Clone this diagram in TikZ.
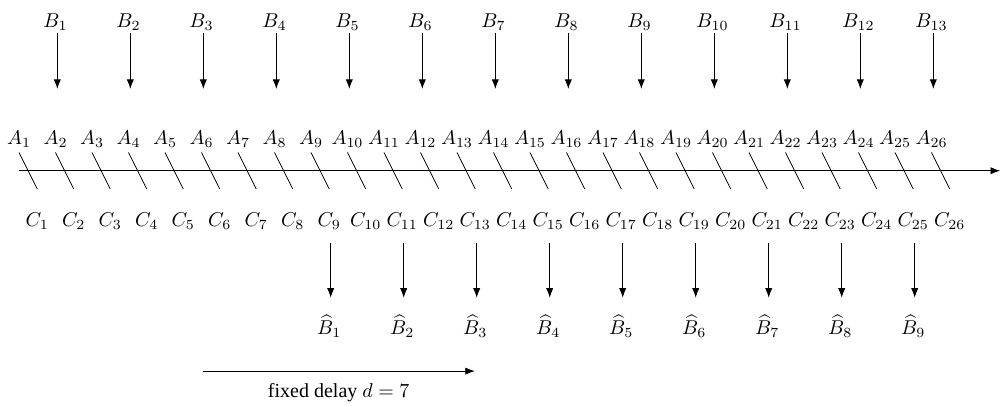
\documentclass[tikz,border=0pt]{standalone}
\usepackage{amsmath}
\usepackage[no-math]{fontspec}
\newfontfamily\delayfont{Liberation Serif}
\usepackage{tikz}
\usetikzlibrary{arrows.meta}

\tikzset{
  lbl/.style={inner sep=1.3pt, anchor=base},
  arr/.style={-{Latex}},
}

\begin{document}
\begin{tikzpicture}[x=18.25pt, y=18.25pt]
  \useasboundingbox (-0.5205,-6.419) rectangle (26.904,4.677);

  % time axis
  \coordinate (start) at (0,0);
  \coordinate (end) at (26.88,0);
  \draw[arr] (start) -- (end);

  % ticks A_i / C_i
  \foreach \i [evaluate=\i as \x using \i-1] in {1,...,26}{
    \draw (\x,0.5) -- (\x+0.5,-0.5);
    \node[lbl] (a\i) at (\x,0.73) {$A_{\i}$};
    \node[lbl] (c\i) at (\x+0.5,-1.53) {$C_{\i}$};
  }

  % inputs B_k
  \foreach \k in {1,...,13}{
    \node[lbl] (b\k) at (2*\k-1,3.93) {$B_{\k}$};
    \coordinate (bs\k) at (2*\k-0.95,3.77);
    \coordinate (bt\k) at (2*\k-0.95,2.24);
    \draw[arr] (bs\k) -- (bt\k);
  }

  % outputs \widehat{B}_k
  \foreach \k in {1,...,9}{
    \coordinate (hs\k) at (2*\k+6.54,-1.98);
    \coordinate (he\k) at (2*\k+6.54,-3.48);
    \draw[arr] (hs\k) -- (he\k);
    \node[lbl] (bh\k) at (2*\k+6.5,-4.5) {$\widehat{B}_{\k}$};
  }

  % delay
  \coordinate (d0) at (5.04,-5.49);
  \coordinate (d1) at (12.49,-5.49);
  \draw[arr] (d0) -- (d1);
  \node[lbl] (delay) at (8.76,-6.22) {\delayfont fixed delay $d=7$};
\end{tikzpicture}
\end{document}
